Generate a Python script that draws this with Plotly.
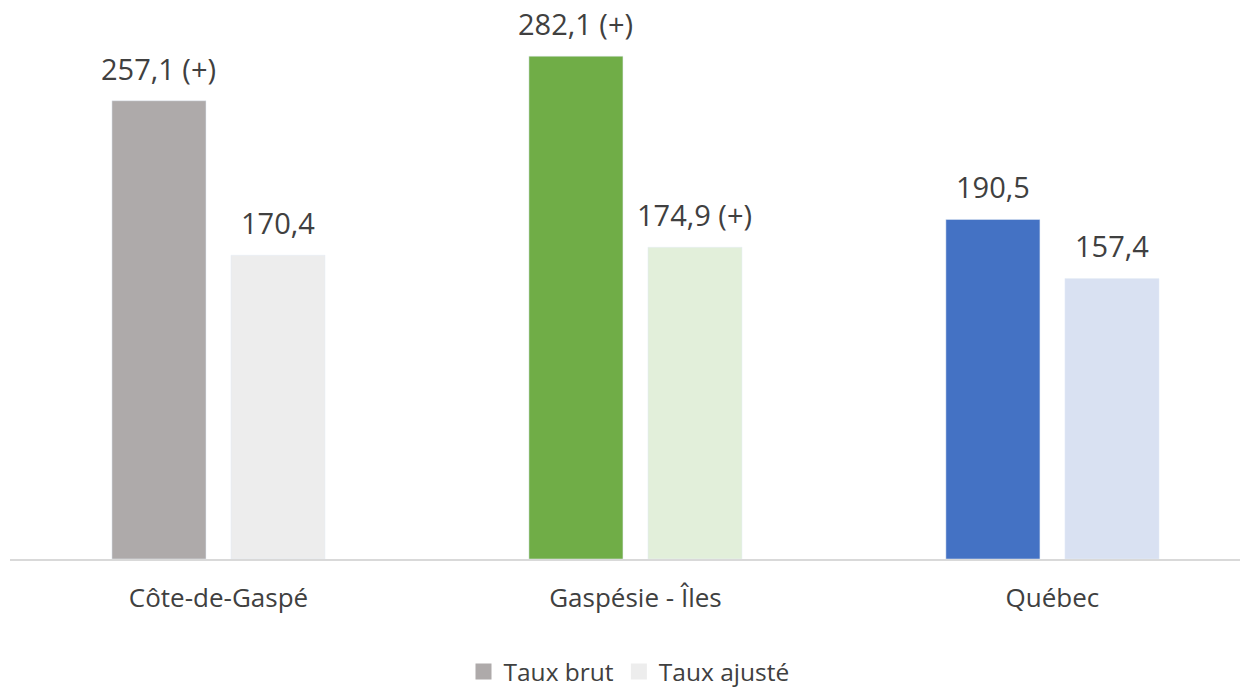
import plotly.graph_objects as go

regions = ["Côte-de-Gaspé", "Gaspésie - Îles", "Québec"]
taux_brut = [257.1, 282.1, 190.5]
taux_ajuste = [170.4, 174.9, 157.4]
labels_brut = ["257,1 (+)", "282,1 (+)", "190,5"]
labels_ajuste = ["170,4", "174,9 (+)", "157,4"]

colors_brut = ["#AEAAAA", "#70AD47", "#4472C4"]
colors_ajuste = ["#EDEDED", "#E2EFDA", "#D9E1F2"]

font_family = "Open Sans, Segoe UI, sans-serif"
text_color = "#404040"

fig = go.Figure()
fig.add_trace(go.Bar(name="Taux brut", x=regions, y=taux_brut,
                     marker_color=colors_brut, hoverinfo="skip",
                     showlegend=False))
fig.add_trace(go.Bar(name="Taux ajusté", x=regions, y=taux_ajuste,
                     marker_color=colors_ajuste, hoverinfo="skip",
                     showlegend=False))

# legend entries with bigger square swatches
for name, col in [("Taux brut", colors_brut[0]), ("Taux ajusté", colors_ajuste[0])]:
    fig.add_trace(go.Scatter(name=name, x=[None], y=[None], mode="markers",
                             marker=dict(symbol="square", size=16, color=col),
                             hoverinfo="skip"))

# value labels above bars
annotations = []
for i, r in enumerate(regions):
    for val, lab, shift in [(taux_brut[i], labels_brut[i], -59.5),
                            (taux_ajuste[i], labels_ajuste[i], 59.5)]:
        annotations.append(dict(
            x=r, y=val, text=lab, xshift=shift, yshift=11,
            showarrow=False, yanchor="bottom",
            font=dict(size=29, color=text_color, family=font_family),
        ))

# page body has an 8px margin, so the figure is sized to fit the window
fig.update_layout(
    width=1240, height=679,
    margin=dict(l=2, r=0, t=2, b=128, autoexpand=False),
    plot_bgcolor="white", paper_bgcolor="white",
    barmode="group", bargap=0.429, bargroupgap=0.21,
    font=dict(family=font_family, color=text_color),
    annotations=annotations,
    showlegend=True,
    legend=dict(orientation="h", x=0.5, xanchor="center", y=-0.205,
                yanchor="middle", font=dict(size=24.5, color=text_color),
                itemwidth=30, traceorder="normal"),
    xaxis=dict(showline=True, linecolor="#D9D9D9", linewidth=2,
               ticks="", tickfont=dict(size=26, color=text_color),
               ticklabelstandoff=15, range=[-0.5, 2.469]),
    yaxis=dict(range=[0, 308], visible=False, showgrid=False),
)

fig.write_html("out.html")
